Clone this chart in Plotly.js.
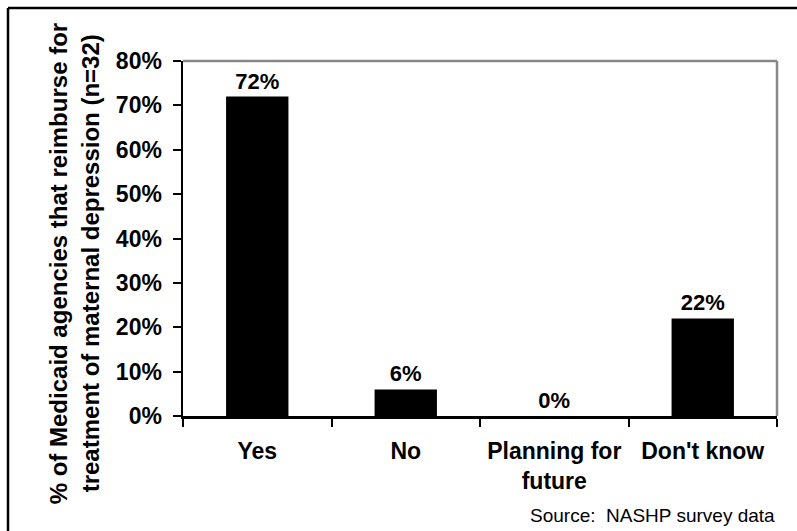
<!DOCTYPE html>
<html>
<head>
<meta charset="utf-8">
<script src="https://cdn.plot.ly/plotly-3.0.1.min.js"></script>
<style>
html,body{margin:0;padding:0;background:#fff;}
#chart{width:797px;height:531px;}
</style>
</head>
<body>
<div id="chart"></div>
<script>
const categories = ["Yes", "No", "Planning for<br>future", "Don't know"];
const shares = [0.72, 0.06, 0.00, 0.22];
const yTitleLines = ["% of Medicaid agencies that reimburse for", "treatment of maternal depression (n=32)"];
const sourceNote = "Source:\u00a0\u00a0NASHP survey data";

const FONT = "Liberation Sans, Arial, sans-serif";

const trace = {
  type: "bar",
  x: categories,
  y: shares,
  marker: {color: "#000000", line: {color: "#000000", width: 0}},
  texttemplate: "%{y:.0%}",
  textposition: "outside",
  cliponaxis: false,
  textfont: {family: FONT, size: 22, color: "#000000", weight: "bold"},
  hoverinfo: "none"
};

const layout = {
  width: 797,
  height: 531,
  margin: {l: 183, r: 20, t: 61, b: 115},
  paper_bgcolor: "#ffffff",
  plot_bgcolor: "#ffffff",
  showlegend: false,
  bargap: 0.58,
  font: {family: FONT, color: "#000000"},
  xaxis: {
    type: "category",
    showgrid: false,
    zeroline: false,
    showline: true,
    linecolor: "#000000",
    linewidth: 2.5,
    ticks: "outside",
    tickson: "boundaries",
    ticklen: 8,
    tickwidth: 2,
    tickcolor: "#000000",
    ticklabelstandoff: 13,
    tickfont: {family: FONT, size: 23, color: "#000000", weight: "bold"}
  },
  yaxis: {
    range: [0, 0.8],
    dtick: 0.1,
    tickformat: ".0%",
    showgrid: false,
    zeroline: false,
    showline: true,
    linecolor: "#000000",
    linewidth: 2.5,
    ticks: "outside",
    ticklen: 8,
    tickwidth: 2,
    tickcolor: "#000000",
    ticklabelstandoff: 6,
    tickfont: {family: FONT, size: 23, color: "#000000", weight: "bold"}
  },
  shapes: [
    {type: "line", xref: "paper", yref: "paper", x0: 0, x1: 1, y0: 1, y1: 1,
     line: {color: "#888888", width: 2.5}},
    {type: "line", xref: "paper", yref: "paper", x0: 1, x1: 1, y0: 0, y1: 1,
     line: {color: "#888888", width: 2.5}},
    {type: "line", xref: "paper", yref: "paper", x0: -0.2946, x1: 1.04, y0: 1.1493, y1: 1.1493,
     line: {color: "#000000", width: 2.5}},
    {type: "line", xref: "paper", yref: "paper", x0: -0.2946, x1: -0.2946, y0: 1.1493, y1: -0.34,
     line: {color: "#000000", width: 2.5}}
  ],
  annotations: [
    {xref: "paper", yref: "paper", x: -0.2105, y: 0.43, text: yTitleLines[0], textangle: -90,
     showarrow: false, xanchor: "center", yanchor: "middle",
     font: {family: FONT, size: 24, color: "#000000", weight: "bold"}},
    {xref: "paper", yref: "paper", x: -0.1566, y: 0.43, text: yTitleLines[1], textangle: -90,
     showarrow: false, xanchor: "center", yanchor: "middle",
     font: {family: FONT, size: 24, color: "#000000", weight: "bold"}},
    {xref: "paper", yref: "paper", x: 1.0, y: -0.279, text: sourceNote,
     showarrow: false, xanchor: "right", yanchor: "middle",
     font: {family: FONT, size: 19, color: "#000000"}}
  ]
};

Plotly.newPlot("chart", [trace], layout, {displayModeBar: false, staticPlot: true});
</script>
</body>
</html>
